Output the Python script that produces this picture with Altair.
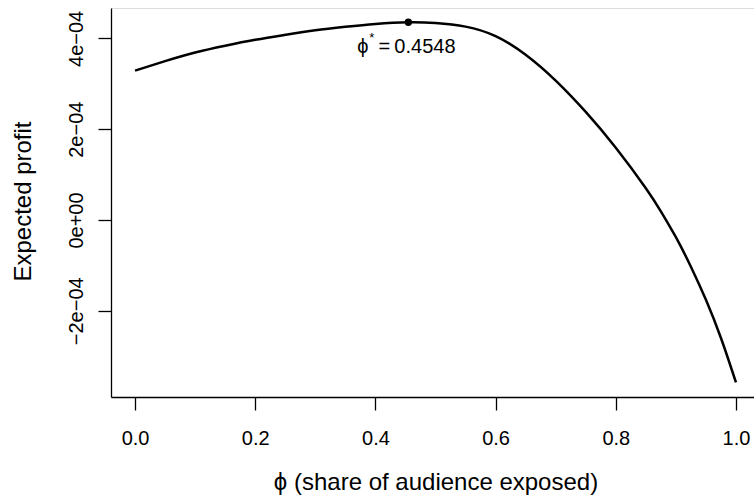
import altair as alt
import pandas as pd

# Expected profit as a function of the share of audience exposed
phi_values = [0.00, 0.05, 0.10, 0.15, 0.20, 0.25, 0.30, 0.35, 0.40, 0.4548,
              0.50, 0.55, 0.60, 0.65, 0.70, 0.75, 0.80, 0.85, 0.875, 0.90,
              0.925, 0.95, 0.975, 1.00]
profit_values = [3.29e-4, 3.50e-4, 3.69e-4, 3.84e-4, 3.97e-4, 4.08e-4, 4.18e-4,
                 4.257e-4, 4.32e-4, 4.357e-4, 4.34e-4, 4.26e-4, 4.05e-4, 3.64e-4,
                 3.07e-4, 2.38e-4, 1.59e-4, 0.70e-4, 0.19e-4, -0.38e-4,
                 -1.03e-4, -1.76e-4, -2.60e-4, -3.58e-4]

# Optimum
phi_star = 0.4548
profit_star = 4.357e-4
phi_star_label = "0.4548"

x_ticks = [0.0, 0.2, 0.4, 0.6, 0.8, 1.0]
y_ticks = [-2e-4, 0.0, 2e-4, 4e-4]
y_tick_labels = ["\u22122e\u221204", "0e+00", "2e\u221204", "4e\u221204"]

PHI = "\u03d5"
FONT = "Liberation Sans"

curve = pd.DataFrame({"phi": phi_values, "profit": profit_values})
opt = pd.DataFrame({"phi": [phi_star], "profit": [profit_star]})

# label expression mapping tick values to R-style scientific labels
expr = f"'{y_tick_labels[-1]}'"
for i in range(len(y_ticks) - 2, -1, -1):
    mid = (y_ticks[i] + y_ticks[i + 1]) / 2
    expr = f"datum.value < {mid} ? '{y_tick_labels[i]}' : ({expr})"

x_scale = alt.Scale(domain=[-0.04, 1.03], nice=False, zero=False)
y_scale = alt.Scale(domain=[-3.9e-4, 4.67e-4], nice=False, zero=False)

x_enc = alt.X(
    "phi:Q",
    scale=x_scale,
    axis=alt.Axis(
        values=x_ticks,
        format=".1f",
        title=f"{PHI} (share of audience exposed)",
        grid=False,
        domainColor="black",
        domainWidth=1.3,
        tickColor="black",
        tickWidth=1.3,
        tickSize=13,
        labelFontSize=20,
        labelColor="black",
        labelPadding=18,
        labelFont=FONT,
        titleFont=FONT,
        titleFontSize=24,
        titleFontWeight="normal",
        titleColor="black",
        titleX=324.5,
        titleY=92,
        titleBaseline="alphabetic",
    ),
)

y_enc = alt.Y(
    "profit:Q",
    scale=y_scale,
    axis=alt.Axis(
        values=y_ticks,
        labelExpr=expr,
        title="Expected profit",
        grid=False,
        domainColor="black",
        domainWidth=1.3,
        tickColor="black",
        tickWidth=1.3,
        tickSize=13,
        labelAngle=270,
        labelAlign="center",
        labelBaseline="bottom",
        labelFontSize=20,
        labelColor="black",
        labelPadding=12,
        labelFont=FONT,
        titleFont=FONT,
        titleFontSize=24,
        titleFontWeight="normal",
        titleColor="black",
        titleAngle=270,
        titleAlign="center",
        titleBaseline="alphabetic",
        titleX=-81,
        titleY=193,
    ),
)

line = alt.Chart(curve).mark_line(
    color="black", strokeWidth=2.5, interpolate="natural"
).encode(x=x_enc, y=y_enc)

dot = alt.Chart(opt).mark_point(
    filled=True, color="black", size=55, opacity=1
).encode(x="phi:Q", y="profit:Q")

def note(text, dx, dy, size, align):
    return alt.Chart(opt).mark_text(
        text=text, dx=dx, dy=dy, fontSize=size, font=FONT,
        color="black", align=align, baseline="alphabetic",
    ).encode(x="phi:Q", y="profit:Q")

annotation = (
    note(PHI, -45.5, 30.6, 20, "center")
    + note("*", -36.5, 20, 13, "center")
    + note("=", -24, 30.6, 20, "center")
    + note(phi_star_label, -14, 30.6, 20, "left")
)

chart = (
    alt.layer(line, dot, annotation)
    .properties(
        width=643,
        height=389,
        padding={"left": 111, "top": 8, "right": 0, "bottom": 98},
        autosize=alt.AutoSizeParams(type="none"),
    )
    .configure_view(stroke=None)
    .configure(background="white")
)

chart.save("out.html", embed_options={"renderer": "svg", "actions": False})
